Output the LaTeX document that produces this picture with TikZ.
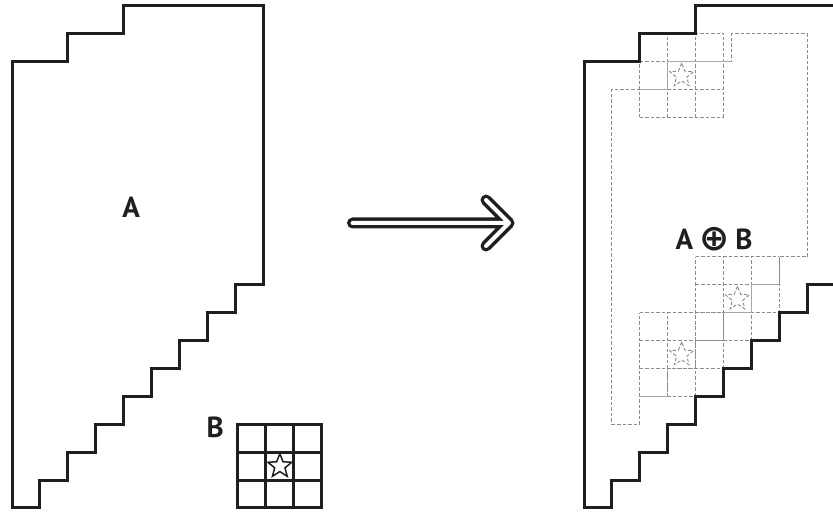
\documentclass[tikz,border=0pt]{standalone}
\usepackage{fontspec}
\setsansfont{PT Sans}
\newfontfamily\symfont{DejaVu Sans}
\usetikzlibrary{shapes.geometric}
\begin{document}
\begin{tikzpicture}[x=1pt,y=1pt,
  shapeline/.style={draw=black!88, line width=3pt, line join=miter},
  gridline/.style={draw=black!88, line width=3pt},
  dgray/.style={draw=black!45, line width=0.9pt, dash pattern=on 3.5pt off 2pt},
  sgray/.style={draw=black!35, line width=0.9pt},
  starshape/.style={star, star points=5, star point ratio=2.3, minimum size=25pt, inner sep=0pt},
  lbl/.style={font=\sffamily\bfseries\fontsize{29}{30}\selectfont, text=black!88, inner sep=0pt},
  apath/.style={insert path={(0,0) -- (1,0) -- (1,1) -- (2,1) -- (2,2) -- (3,2) -- (3,3) -- (4,3) -- (4,4) -- (5,4) -- (5,5) -- (6,5) -- (6,6) -- (7,6) -- (7,7) -- (8,7) -- (8,8) -- (9,8) -- (9,18) -- (4,18) -- (4,17) -- (2,17) -- (2,16) -- (0,16) -- cycle}}]
\useasboundingbox (0,0) rectangle (833,514);
\clip (0,0) rectangle (833,514);
\fill[white] (0,0) rectangle (833,514);

% ---------- left: A and B ----------
\begin{scope}[shift={(12pt,6pt)}, x=27.9pt, y=27.9pt]
  \draw[shapeline, apath];
  \node[lbl] (labelA) at (4.27,10.79) {A};
  \node[lbl] (labelB) at (7.28,2.9) {B};
  \begin{scope}[shift={(8.1,0)}]
    \foreach \i in {0,...,3} {
      \draw[gridline] (\i,0) -- (\i,3);
      \draw[gridline] (0,\i) -- (3,\i);
    }
    \draw[gridline, line join=miter] (0,0) rectangle (3,3);
    \node[starshape, draw=black!88, line width=1.5pt] (starB) at (1.5,1.5) {};
  \end{scope}
\end{scope}

% ---------- arrow ----------
\coordinate (arrS) at (352.5,291);
\coordinate (arrT) at (509,291);
\coordinate (arrU) at (486,314);
\coordinate (arrD) at (486,268);
\draw[line width=11pt, line cap=round, line join=round, black!88] (arrS) -- (arrT) (arrU) -- (arrT) -- (arrD);
\draw[line width=4pt, line cap=round, line join=round, white] (arrS) -- (arrT) (arrU) -- (arrT) -- (arrD);

% ---------- right: A (+) B ----------
\begin{scope}[shift={(584pt,6pt)}, x=27.9pt, y=27.9pt]
  \foreach \gx/\gy/\k in {2/14/1, 4/6/2, 2/4/3} {
    \begin{scope}[shift={(\gx,\gy)}]
      \foreach \i in {0,...,3} {
        \draw[dgray] (\i,0) -- (\i,3);
        \draw[dgray] (0,\i) -- (3,\i);
      }
      \node[starshape, dgray] (star\k) at (1.5,1.5) {};
    \end{scope}
  }
  \draw[dgray] (1,3) -- (2,3) -- (2,4) -- (3,4) -- (3,5) -- (4,5) -- (4,6) -- (5,6) -- (5,7) -- (6,7) -- (6,8) -- (7,8) -- (7,9) -- (8,9) -- (8,17) -- (5.3,17) -- (5.3,16) -- (3,16) -- (3,15) -- (1,15) -- cycle;
  \draw[sgray] (2,15) -- (3,15) -- (3,16) -- (5.3,16);
  \draw[sgray] (5,7) -- (6,7) -- (6,8) -- (7,8);
  \draw[sgray] (2,4) -- (3,4);
  \draw[shapeline, apath];
  \node[lbl] (labelAB) at (4.66,9.62) {A\hspace{6pt}\raisebox{-1.5pt}{\symfont\fontsize{36}{36}\selectfont ⊕}\hspace{6pt}B};
\end{scope}
\end{tikzpicture}
\end{document}
